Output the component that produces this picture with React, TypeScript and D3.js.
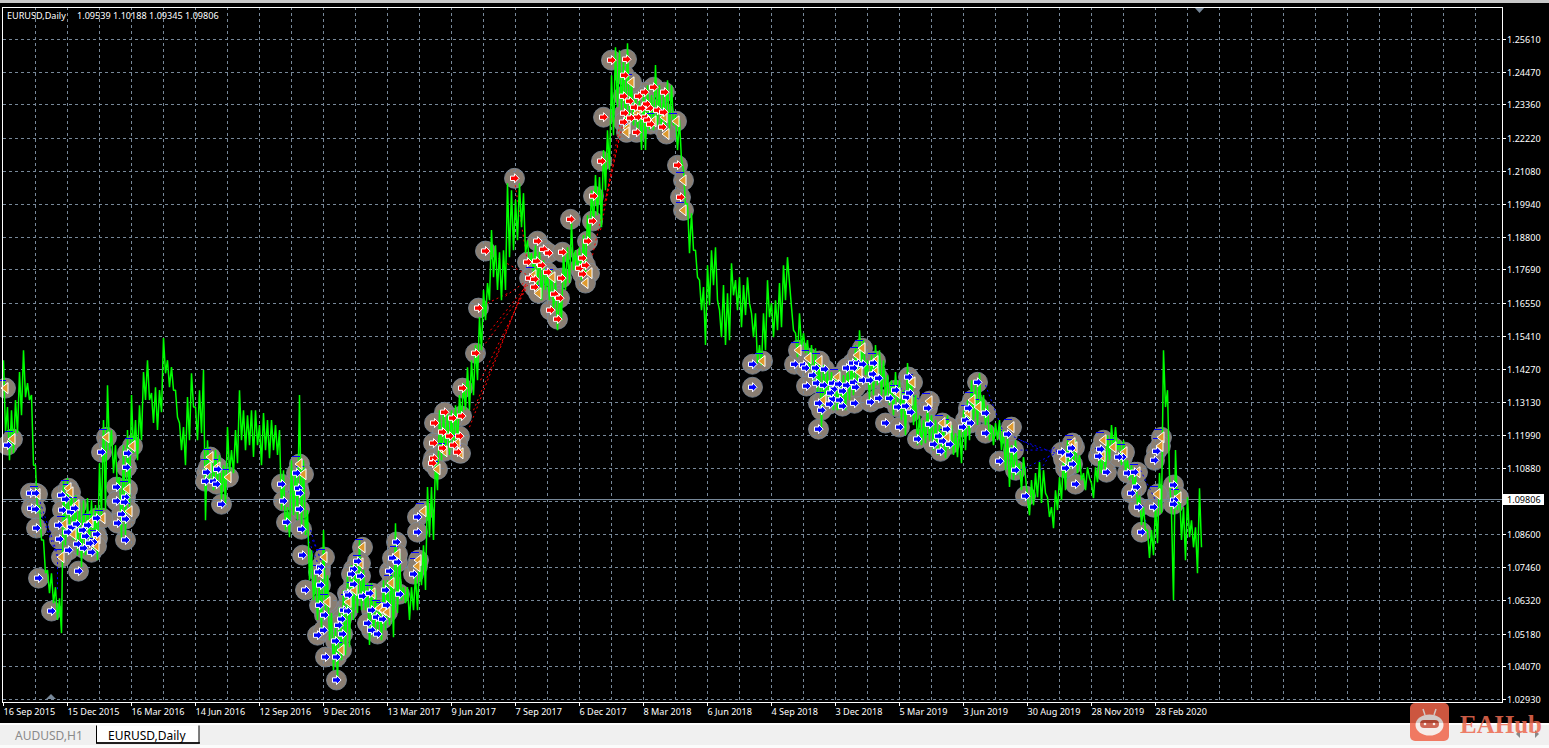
import React from "react";
import * as d3 from "d3";

// Prices are in 1/10000 of a dollar. One pair of values per four daily bars.
const highs = [
11459,11298,11287,11322,11418,11493,11380,11339,11098,10961,10841,10738,10727,10679,10641,11047,
11054,11012,10995,10968,10978,10985,10978,10961,11105,11253,11373,11219,11167,11057,11167,11219,
11339,11253,11304,11418,11459,11346,11366,11356,11535,11459,11435,11356,11243,11229,11332,11414,
11298,11356,11425,11184,11133,11150,11133,11098,11229,11150,11219,11356,11287,11270,11287,11287,
11236,11277,11253,11253,11236,11219,11081,10954,11115,11081,11339,11115,10944,10806,10720,10703,
10875,10720,10590,10542,10610,10669,10727,10755,10772,10841,10738,10693,10693,10669,10634,10703,
10703,10748,10899,10796,10679,10679,10679,10720,10772,10823,11023,11023,11115,11287,11287,11287,
11287,11304,11339,11380,11435,11459,11511,11607,11700,11724,11906,11854,11830,11837,12067,12043,
12009,12067,12033,11871,11827,11854,11837,11803,11751,11768,11734,11682,11837,11847,11930,11837,
11847,11889,11957,12043,12095,12088,12181,12249,12438,12534,12524,12490,12548,12421,12370,12352,
12387,12404,12370,12473,12404,12370,12421,12404,12301,12284,12112,11998,11964,11837,11734,11710,
11785,11837,11847,11631,11717,11689,11792,11734,11744,11717,11744,11620,11620,11511,11620,11734,
11655,11665,11724,11785,11813,11641,11552,11620,11552,11528,11511,11500,11459,11442,11425,11418,
11408,11425,11408,11442,11459,11511,11562,11528,11459,11476,11511,11493,11459,11408,11390,11418,
11390,11356,11449,11408,11339,11270,11253,11304,11270,11253,11236,11236,11270,11236,11208,11236,
11287,11322,11390,11373,11414,11339,11304,11236,11243,11253,11219,11208,11167,11184,11105,11126,
10988,11047,11071,11109,11081,10988,10954,11012,11057,11133,11184,11167,11184,11133,11071,11091,
11036,11091,11139,11150,11201,11236,11229,11184,11184,11115,11098,11064,10995,10954,10875,10875,
10961,11071,11493,11356,10933,11150,11012,10954,10988,10909,10885,11019];
const lows = [
11212,11115,11139,11208,11270,11332,11322,11098,10933,10841,10727,10658,10624,10566,10521,10823,
10875,10841,10789,10748,10789,10823,10806,10772,10920,10944,11150,11071,11012,10841,10858,10954,
11139,11115,11184,11322,11322,11243,11219,11280,11414,11366,11356,11263,11150,11098,11184,11298,
11184,11208,10909,11047,11012,11030,10978,10961,11071,11071,11105,11184,11150,11167,11126,11167,
11098,11150,11122,11150,11133,10944,10875,10851,10926,10909,10885,10858,10703,10634,10566,10531,
10600,10497,10394,10360,10428,10445,10473,10566,10590,10600,10600,10480,10507,10514,10497,10531,
10548,10507,10590,10634,10624,10566,10600,10600,10686,10669,10851,10841,11012,11115,11126,11133,
11150,11167,11253,11287,11287,11339,11390,11493,11596,11665,11744,11700,11665,11700,11813,11837,
11871,11916,11827,11785,11758,11700,11665,11700,11665,11631,11562,11596,11700,11724,11768,11768,
11734,11751,11854,11923,11957,11916,12043,12112,12232,12328,12318,12249,12301,12266,12249,12181,
12181,12249,12249,12266,12249,12266,12249,12266,12181,12146,11992,11827,11837,11744,11631,11511,
11648,11717,11665,11538,11511,11528,11682,11631,11572,11614,11655,11538,11449,11442,11493,11607,
11538,11562,11572,11665,11724,11562,11469,11504,11483,11425,11373,11346,11229,11322,11304,11287,
11287,11304,11287,11322,11339,11373,11442,11408,11322,11339,11373,11339,11322,11304,11270,11311,
11253,11201,11322,11236,11167,11167,11174,11184,11150,11133,11150,11122,11150,11133,11126,11105,
11150,11184,11253,11236,11270,11236,11184,11167,11184,11150,11081,11023,11047,11064,11012,11057,
10926,10961,10988,10968,11002,10920,10882,10944,10978,11012,11081,11098,11071,11047,11012,11054,
10985,11040,11071,11081,11115,11150,11150,11098,11081,11047,11012,10961,10892,10875,10779,10789,
10830,10933,11298,11057,10634,10944,10841,10772,10851,10816,10727,10816];
const barsPerSample = 4;

const blueArrows = [[4,11167],[27,11002],[32,11002],[28,10950],[32,10947],[33,10882],[35,10710],[48,10597],[58,10995],[62,10981],[59,10944],[67,10937],[71,10950],[55,10892],[68,10885],[73,10896],[64,10868],[56,10844],[65,10806],[75,10734],[74,10827],[80,10813],[79,10875],[82,10854],[84,10892],[93,10916],[93,10861],[90,10834],[88,10799],[86,10830],[98,11143],[124,11139],[123,11091],[113,11023],[122,10988],[113,10975],[121,10971],[118,10930],[122,10913],[114,10899],[122,10841],[214,11084],[203,11074],[202,11043],[210,11043],[213,11033],[218,10964],[293,11071],[278,11033],[295,11019],[296,11002],[280,10975],[296,10947],[283,10902],[298,10878],[299,10789],[317,10748],[315,10731],[317,10686],[302,10669],[316,10617],[321,10583],[314,10514],[320,10531],[354,10768],[350,10741],[348,10724],[357,10717],[350,10689],[344,10658],[345,10652],[359,10648],[366,10658],[340,10600],[344,10597],[338,10569],[335,10548],[339,10518],[332,10494],[333,10439],[322,10439],[333,10360],[368,10600],[383,10617],[373,10576],[379,10569],[364,10555],[368,10531],[374,10518],[382,10669],[386,10734],[389,10779],[394,10765],[393,10834],[396,10655],[410,10724],[414,10920],[414,10868],[749,11445],[749,11366],[791,11445],[800,11442],[802,11432],[812,11432],[821,11428],[809,11407],[813,11380],[803,11370],[820,11373],[829,11380],[835,11377],[843,11373],[830,11359],[839,11353],[827,11346],[815,11311],[829,11325],[836,11322],[826,11308],[818,11287],[839,11301],[851,11311],[815,11222],[849,11449],[854,11449],[859,11445],[843,11432],[850,11432],[870,11449],[869,11411],[875,11397],[859,11390],[866,11390],[850,11383],[852,11366],[867,11315],[875,11328],[886,11328],[892,11356],[882,11243],[896,11229],[894,11298],[902,11301],[903,11332],[906,11346],[905,11401],[907,11280],[924,11294],[914,11188],[926,11239],[943,11222],[935,11198],[939,11181],[930,11170],[946,11170],[937,11146],[974,11383],[965,11294],[962,11253],[967,11243],[959,11229],[982,11277],[982,11208],[1004,11205],[1010,11150],[996,11112],[1012,11081],[1022,10992],[1068,11157],[1058,11143],[1066,11133],[1069,11102],[1062,11088],[1072,11033],[1097,11153],[1095,11129],[1119,11126],[1115,11126],[1103,11074],[1124,11071],[1131,11074],[1133,11023],[1128,11002],[1135,10954],[1150,10954],[1138,10868],[1153,11146],[1151,11115],[1170,11030],[1171,10978],[1170,10964]];
const redArrows = [[511,12084],[590,12023],[567,11943],[589,11937],[482,11834],[534,11868],[540,11840],[545,11827],[559,11830],[584,11868],[579,11810],[524,11796],[533,11799],[538,11785],[544,11761],[558,11741],[576,11775],[582,11785],[579,11755],[526,11741],[531,11737],[531,11710],[551,11686],[556,11672],[547,11631],[554,11600],[475,11638],[472,11483],[459,11363],[441,11280],[458,11267],[449,11260],[431,11243],[439,11212],[446,11198],[456,11198],[450,11167],[430,11174],[439,11157],[454,11143],[430,11122],[429,11105],[608,12490],[623,12493],[621,12438],[600,12294],[598,12143],[650,12397],[661,12380],[641,12380],[635,12366],[620,12366],[626,12349],[631,12328],[646,12325],[643,12339],[638,12325],[654,12318],[660,12311],[621,12308],[642,12294],[634,12294],[627,12291],[644,12284],[620,12277],[647,12270],[659,12260],[633,12242],[674,12129],[677,12019]];
const orangeExits = [[2,11363],[9,11188],[34,10999],[65,11019],[67,11005],[73,10961],[61,10896],[70,10861],[58,10782],[87,10902],[99,10916],[94,10847],[93,10820],[103,11194],[129,11164],[124,11016],[126,10940],[207,11126],[214,11091],[205,11091],[225,11057],[296,11102],[300,11067],[321,10782],[317,10727],[324,10628],[359,10816],[357,10761],[351,10669],[369,10658],[345,10628],[338,10463],[376,10607],[380,10600],[384,10593],[388,10693],[394,10792],[415,10772],[414,10751],[420,10940],[434,11084],[441,11146],[454,11174],[457,11139],[549,11744],[586,11758],[582,11724],[530,11751],[535,11689],[628,12414],[634,12308],[650,12280],[661,12294],[673,12280],[624,12256],[623,12242],[663,12236],[680,12077],[680,11974],[759,11456],[795,11493],[805,11466],[816,11456],[834,11401],[820,11322],[859,11500],[854,11476],[856,11418],[872,11456],[872,11418],[894,11346],[906,11322],[909,11383],[926,11318],[939,11243],[945,11229],[944,11194],[969,11322],[975,11298],[965,11277],[1008,11229],[1071,11160],[1069,11174],[1060,11119],[1100,11184],[1099,11129],[1110,11160],[1121,11143],[1134,11074],[1154,10999],[1158,11194],[1157,11164],[1175,10988]];
const redLinks = [[466,11229,522,11724],[470,11287,524,11734],[477,11390,524,11717],[482,11517,522,11700],[487,11562,525,11724],[502,11679,524,11734],[484,11655,507,11693],[511,12077,524,11796],[589,11820,619,12266],[597,11906,615,12215],[602,12009,619,12318],[482,11834,524,11751]];
const blueLinks = [[309,10841,322,10738],[302,10868,319,10720],[307,10875,317,10772],[35,10988,55,10782],[37,10937,54,10782],[54,10782,54,10669],[1017,11184,1057,11133],[1017,11081,1059,11150],[1012,11150,1057,11150],[1137,11081,1152,10978],[1139,10961,1143,10892],[875,11407,917,11322],[982,11373,999,11219],[997,11219,1037,11150],[1037,11081,1052,11167]];

const priceTicks = [12561,12447,12336,12222,12108,11994,11880,11769,11655,11541,11427,11313,11199,11088,10974,10860,10746,10632,10518,10407,10293];
const hiddenPriceTick = 10974;
const dateTicks = ["16 Sep 2015","15 Dec 2015","16 Mar 2016","14 Jun 2016","12 Sep 2016","9 Dec 2016","13 Mar 2017","9 Jun 2017","7 Sep 2017","6 Dec 2017","8 Mar 2018","6 Jun 2018","4 Sep 2018","3 Dec 2018","5 Mar 2019","3 Jun 2019","30 Aug 2019","28 Nov 2019","28 Feb 2020"];
const dateTickEvery = 64;
const gridEvery = 32;
const lastClose = 10980.6;
const headerSymbol = "EURUSD,Daily";
const headerValues = "1.09539 1.10188 1.09345 1.09806";
const tabs = ["AUDUSD,H1", "EURUSD,Daily"];

const W = 1549, H = 748;
const left = 3, right = 1502, top = 7, bottom = 702;
const FONT = "'Noto Sans', sans-serif";
const LABEL = 9.1;
const GRID = "#778899";

const x = d3.scaleLinear().domain([0, 1496]).range([3.5, 1499.5]);
const y = d3.scaleLinear().domain([10293, 12561]).range([699.5, 39.5]);
const snapY = (p: number) => Math.floor(y(p)) + 0.5;
const fmt = (p: number) => (p / 10000).toFixed(5);

const zig: [number, number][] = [];
highs.forEach((h, i) => {
  zig.push([i * barsPerSample, h]);
  zig.push([i * barsPerSample + barsPerSample / 2, lows[i]]);
});
const zigPath = d3.line<[number, number]>().x(d => x(d[0])).y(d => y(d[1]))(zig) as string;

const gridBars = d3.range(gridEvery, 1480, gridEvery);
const allMarkers = [...blueArrows, ...redArrows, ...orangeExits];
const ARROW = "M-4,-2.2 L0,-2.2 L0,-4.6 L4.6,0 L0,4.6 L0,2.2 L-4,2.2 Z";
const TRI = "M-4.5,0 L2.5,-5.5 L2.5,5.5 Z";

export default function App() {
  return (
    <svg width={W} height={H} viewBox={`0 0 ${W} ${H}`} style={{ position: "fixed", left: 0, top: 0, display: "block" }} fontFamily={FONT}>
      <rect width={W} height={H} fill="#000" />
      <rect width={W} height={3} fill="#c8c8c8" />

      <g>
        {allMarkers.map((m, i) => (
          <circle key={i} cx={x(m[0])} cy={y(m[1])} r={10} fill="#8a7e72" stroke="#7f8d9c" strokeWidth={0.8} />
        ))}
      </g>

      <g stroke={GRID} strokeDasharray="3 3" shapeRendering="crispEdges">
        {priceTicks.map(p => <line key={p} x1={left} x2={right} y1={snapY(p)} y2={snapY(p)} />)}
        {gridBars.map(b => <line key={b} x1={x(b)} x2={x(b)} y1={top} y2={bottom} />)}
      </g>

      <line x1={left} x2={right} y1={snapY(lastClose)} y2={snapY(lastClose)} stroke={GRID} shapeRendering="crispEdges" />

      <g fill="none" strokeDasharray="2 3" strokeWidth={1}>
        {redLinks.map((l, i) => <line key={i} x1={x(l[0])} y1={y(l[1])} x2={x(l[2])} y2={y(l[3])} stroke="#ff0000" />)}
        {blueLinks.map((l, i) => <line key={i} x1={x(l[0])} y1={y(l[1])} x2={x(l[2])} y2={y(l[3])} stroke="#0000ff" />)}
      </g>

      <path d={zigPath} fill="none" stroke="#00ff00" strokeWidth={1.5} strokeLinejoin="bevel" />

      <g stroke="#0000ff" strokeWidth={1} shapeRendering="crispEdges">
        {orangeExits.map((m, i) => (
          <line key={i} x1={x(m[0]) - 8} x2={x(m[0])} y1={y(m[1]) - 8} y2={y(m[1]) - 8} />
        ))}
      </g>

      <g>
        {orangeExits.map((m, i) => (
          <path key={i} d={TRI} transform={`translate(${x(m[0])},${y(m[1])})`} fill="#df9a2e" stroke="#fff" strokeWidth={1} />
        ))}
        {blueArrows.map((m, i) => (
          <path key={i} d={ARROW} transform={`translate(${x(m[0])},${y(m[1])})`} fill="#0000ff" stroke="#fff" strokeWidth={1} />
        ))}
        {redArrows.map((m, i) => (
          <path key={i} d={ARROW} transform={`translate(${x(m[0])},${y(m[1])})`} fill="#ff0000" stroke="#fff" strokeWidth={1} />
        ))}
      </g>

      <path d="M1195,8 L1204,8 L1199.5,13 Z" fill={GRID} />
      <path d="M46,699 L56,699 L51,694 Z" fill={GRID} />

      <rect x={left - 0.5} y={top + 0.5} width={right - left + 0.5} height={bottom - top} fill="none" stroke="#fff" shapeRendering="crispEdges" />

      <text x={7} y={19} fontSize={LABEL} fill="#fff">{headerSymbol}</text>
      <text x={77} y={19} fontSize={LABEL} fill="#fff">{headerValues}</text>

      <g fontSize={LABEL} fill="#fff">
        {priceTicks.filter(p => p !== hiddenPriceTick).map(p => (
          <g key={p}>
            <line x1={right} x2={right + 4} y1={snapY(p)} y2={snapY(p)} stroke="#fff" shapeRendering="crispEdges" />
            <text x={1507} y={snapY(p) + 3.5}>{fmt(p)}</text>
          </g>
        ))}
        {dateTicks.map((d, i) => {
          const px = x(i * dateTickEvery);
          return (
            <g key={d}>
              <line x1={px} x2={px} y1={bottom} y2={bottom + 4} stroke="#fff" shapeRendering="crispEdges" />
              <text x={px} y={715}>{d}</text>
            </g>
          );
        })}
      </g>

      <rect x={1503} y={494} width={41} height={11} fill="#fff" />
      <text x={1507} y={snapY(lastClose) + 3.5} fontSize={LABEL} fill="#000">{fmt(lastClose)}</text>

      <rect x={0} y={723} width={W} height={2} fill="#fff" />
      <rect x={0} y={725} width={W} height={20} fill="#f0f0f0" />
      <rect x={0} y={745} width={W} height={3} fill="#fbfbfb" />
      <text x={15} y={740} fontSize={12} fill="#8a8a8a">{tabs[0]}</text>
      <path d="M96.5,725.5 V743 H199 V725.5" fill="#fff" stroke="#000" strokeWidth={1} />
      <line x1={96} x2={200} y1={743} y2={743} stroke="#000" strokeWidth={1.5} />
      <text x={108} y={740} fontSize={12} fill="#000">{tabs[1]}</text>
      <path d="M1520,730 L1516,734 L1520,738 Z" fill="#888" />
      <path d="M1535,730 L1539,734 L1535,738 Z" fill="#888" />

      <g opacity={0.85}>
        <rect x={1410} y={703} width={39} height={38} rx={5} fill="#f0654a" />
        <ellipse cx={1429.5} cy={725} rx={14} ry={10.5} fill="#f8ece8" />
        <rect x={1420} y={720} width={19} height={8} rx={4} fill="#c9503a" />
        <circle cx={1425} cy={724} r={1.3} fill="#f8ece8" />
        <circle cx={1434} cy={724} r={1.3} fill="#f8ece8" />
        <line x1={1423} y1={709} x2={1425} y2={715} stroke="#f8ece8" strokeWidth={1.5} />
        <line x1={1436} y1={709} x2={1434} y2={715} stroke="#f8ece8" strokeWidth={1.5} />
        <text x={1460} y={733} fontFamily="'Liberation Serif', serif" fontSize={25} fontWeight={700} fill="#ec6a50">EAHub</text>
      </g>
    </svg>
  );
}
